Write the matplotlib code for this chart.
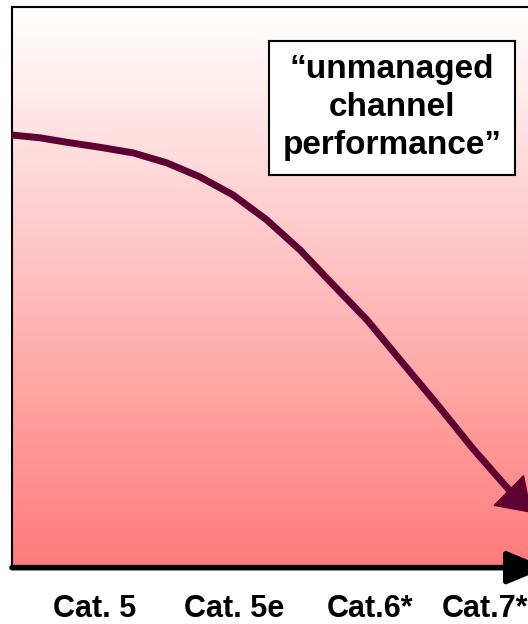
import matplotlib
matplotlib.use("Agg")
import matplotlib.pyplot as plt
import numpy as np
from matplotlib.colors import LinearSegmentedColormap

plt.rcParams["font.family"] = ["Liberation Sans", "DejaVu Sans"]
plt.rcParams["font.weight"] = "bold"

# categories along the bottom axis and where they sit (0..100 axis units)
categories = ["Cat. 5", "Cat. 5e", "Cat.6*", "Cat.7*"]
category_pos = [15.0, 40.5, 65.3, 86.3]

# "unmanaged channel performance" curve
curve_x = [0.0, 5.1, 10.0, 16.1, 22.1, 28.3, 34.3, 40.3, 46.5, 52.6,
           58.6, 64.8, 70.8, 78.1, 84.1, 91.6]
curve_y = [77.1, 76.6, 75.8, 74.9, 73.9, 72.1, 69.6, 66.4, 61.9, 56.5,
           50.3, 44.0, 36.9, 28.3, 21.0, 12.6]
tip_x, tip_y = 94.8, 9.5

label = "\u201cunmanaged\nchannel\nperformance\u201d"

fig = plt.figure(figsize=(5.28, 6.24), dpi=100)
# axes run past the right edge of the figure, like the original slide
ax = fig.add_axes([12 / 528, 1 - 566 / 624, 548 / 528, 559 / 624])
ax.set_xlim(0, 100)
ax.set_ylim(0, 100)

# white -> salmon gradient background
cmap = LinearSegmentedColormap.from_list("bg", ["#FF7B7B", "#FFFFFF"])
grad = np.linspace(0, 1, 256).reshape(-1, 1)
ax.imshow(grad, extent=(0, 100, 0, 100), origin="lower", aspect="auto",
          cmap=cmap, interpolation="bicubic", zorder=0)

line_color = "#5F0033"
ax.plot(curve_x, curve_y, color=line_color, lw=5, solid_joinstyle="round",
        solid_capstyle="butt", zorder=3)
ax.annotate("", xy=(tip_x, tip_y), xytext=(curve_x[-1], curve_y[-1]),
            arrowprops=dict(arrowstyle="-|>,head_length=22,head_width=15",
                            mutation_scale=1, color=line_color, lw=1,
                            shrinkA=0, shrinkB=0),
            annotation_clip=False, zorder=4)

# bottom axis arrow
ax.annotate("", xy=(97.5, -0.3), xytext=(0, -0.3),
            arrowprops=dict(arrowstyle="-|>,head_length=24,head_width=10",
                            mutation_scale=1, color="black", lw=4,
                            shrinkA=0, shrinkB=0),
            annotation_clip=False, zorder=5)

ax.text(69.3, 82.0, label, ha="center", va="center", multialignment="center",
        fontsize=24, fontweight="bold", linespacing=1.3, zorder=6,
        bbox=dict(boxstyle="square,pad=0.4", fc="white", ec="black", lw=1.5))

ax.set_xticks(category_pos, categories)
ax.set_yticks([])
ax.tick_params(axis="x", length=0, pad=20, labelsize=22)
for t in ax.get_xticklabels():
    t.set_fontweight("bold")
for s in ax.spines.values():
    s.set_linewidth(1.5)
    s.set_color("black")

fig.savefig("out.png", dpi=100)
